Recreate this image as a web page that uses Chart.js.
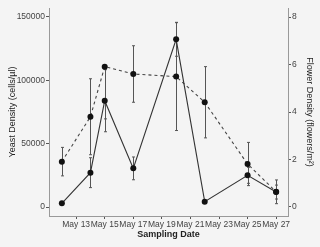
<!DOCTYPE html>
<html lang="en">
<head>
<meta charset="UTF-8">
<title>Yeast and flower density</title>
<script src="https://cdn.jsdelivr.net/npm/chart.js"></script>
<style>
  * { margin: 0; padding: 0; box-sizing: border-box; }
  body { background: #f4f4f4; }
  #grafico { display: block; }
</style>
</head>
<body>
<canvas id="grafico" width="320" height="247"></canvas>
<script>
// sampling days (day of May)
const days = [12, 14, 15, 17, 20, 22, 25, 27];
const xTicks = [13, 15, 17, 19, 21, 23, 25, 27];

// yeast density (cells/µl), solid line, left axis
const yeast = [2900, 27100, 83900, 30500, 132400, 4200, 25000, 11800];
const yeastErr = [0, 11800, 24500, 9000, 13400, 0, 6300, 5500];

// flower density (flowers/m2), dashed line, right axis
const flowers = [1.91, 3.80, 5.91, 5.60, 5.49, 4.41, 1.81, 0.64];
const flowerErrDown = [0.6, 1.6, 2.2, 1.19, 2.27, 1.5, 0.91, 0.5];
const flowerErrUp = [0.6, 1.6, 0, 1.19, 2.27, 1.5, 0.91, 0.5];

const yeastTicks = [0, 50000, 100000, 150000];
const flowerTicks = [0, 2, 4, 6, 8];

// error bars drawn through the chart scales
const errorBars = {
  id: 'errorBars',
  beforeDatasetsDraw(chart) {
    const ctx = chart.ctx;
    const xs = chart.scales.x;
    ctx.save();
    ctx.strokeStyle = '#555';
    ctx.lineWidth = 1;
    chart.data.datasets.forEach(ds => {
      const ys = chart.scales[ds.yAxisID];
      ds.data.forEach((p, i) => {
        const lo = p.y - ds.errDown[i];
        const hi = p.y + ds.errUp[i];
        if (lo === hi) return;
        const x = Math.round(xs.getPixelForValue(p.x)) + 0.5;
        const yl = ys.getPixelForValue(lo);
        const yh = ys.getPixelForValue(hi);
        ctx.beginPath();
        ctx.moveTo(x, yl); ctx.lineTo(x, yh);
        ctx.moveTo(x - 1.5, yl); ctx.lineTo(x + 1.5, yl);
        ctx.moveTo(x - 1.5, yh); ctx.lineTo(x + 1.5, yh);
        ctx.stroke();
      });
    });
    ctx.restore();
  }
};

const tickFont = { family: 'Liberation Sans, Arial, sans-serif', size: 8.5 };
const titleFont = { family: 'Liberation Sans, Arial, sans-serif', size: 9 };

const config = {
  type: 'line',
  data: {
    datasets: [{
      label: 'Yeast',
      data: days.map((d, i) => ({ x: d, y: yeast[i] })),
      errDown: yeastErr,
      errUp: yeastErr,
      yAxisID: 'y',
      borderColor: '#333',
      borderWidth: 1.1,
      backgroundColor: '#111',
      pointRadius: 3,
      pointBorderWidth: 0,
      tension: 0
    }, {
      label: 'Flowers',
      data: days.map((d, i) => ({ x: d, y: flowers[i] })),
      errDown: flowerErrDown,
      errUp: flowerErrUp,
      yAxisID: 'y1',
      borderColor: '#444',
      borderWidth: 1.1,
      borderDash: [3, 3],
      backgroundColor: '#111',
      pointRadius: 3,
      pointBorderWidth: 0,
      tension: 0
    }]
  },
  options: {
    responsive: false,
    animation: false,
    layout: { padding: { top: 8, left: 0, right: 0, bottom: 0 } },
    plugins: { legend: { display: false }, tooltip: { enabled: false } },
    scales: {
      x: {
        type: 'linear',
        min: 11.1,
        max: 27.83,
        afterBuildTicks: s => { s.ticks = xTicks.map(v => ({ value: v })); },
        afterFit: s => { s.height = 31; },
        grid: { drawOnChartArea: false, tickLength: 3, color: '#555' },
        border: { color: '#999' },
        ticks: { font: tickFont, color: '#444', padding: 1, maxRotation: 0, autoSkip: false,
          callback: v => 'May ' + v },
        title: { display: true, text: 'Sampling Date', color: '#222',
          font: { ...titleFont, weight: 'bold' }, padding: { top: 0, bottom: 7 } }
      },
      y: {
        position: 'left',
        min: -7100,
        max: 157100,
        afterBuildTicks: s => { s.ticks = yeastTicks.map(v => ({ value: v })); },
        afterFit: s => { s.width = 49; },
        grid: { drawOnChartArea: false, tickLength: 3, color: '#555' },
        border: { color: '#999' },
        ticks: { font: tickFont, color: '#444', padding: 1, callback: v => String(v) },
        title: { display: true, text: 'Yeast Density (cells/µl)', color: '#222', font: titleFont,
          padding: { top: 7, bottom: 0 } }
      },
      y1: {
        position: 'right',
        min: -0.379,
        max: 8.379,
        afterBuildTicks: s => { s.ticks = flowerTicks.map(v => ({ value: v })); },
        afterFit: s => { s.width = 32; },
        grid: { drawOnChartArea: false, tickLength: 3, color: '#555' },
        border: { color: '#999' },
        ticks: { font: tickFont, color: '#444', padding: 1, callback: v => String(v) },
        title: { display: true, text: 'Flower Density (flowers/m²)', color: '#222', font: titleFont,
          padding: { top: 5, bottom: 0 } }
      }
    }
  },
  plugins: [errorBars]
};

new Chart(document.getElementById('grafico'), config);
</script>
</body>
</html>
